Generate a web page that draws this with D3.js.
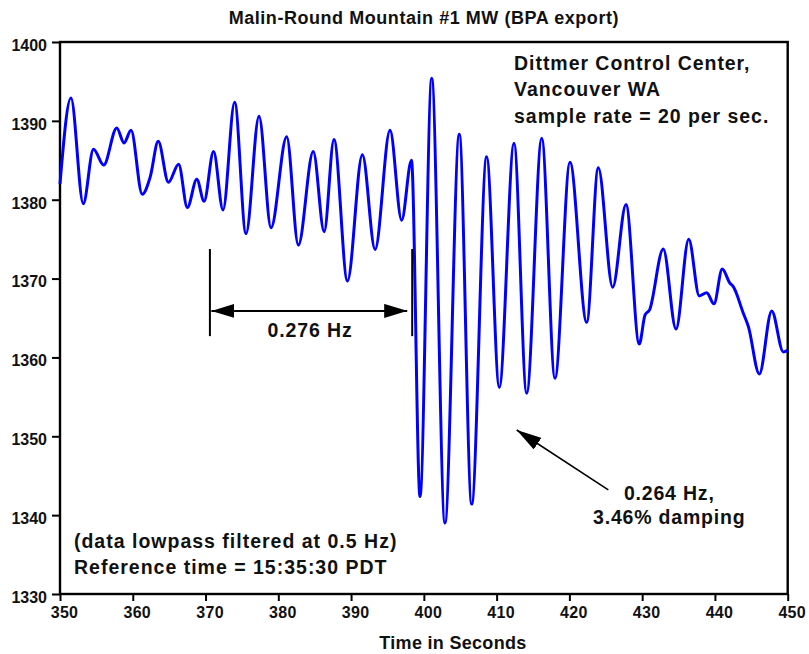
<!DOCTYPE html>
<html>
<head>
<meta charset="utf-8">
<script src="https://cdn.jsdelivr.net/npm/d3@7/dist/d3.min.js"></script>
<style>
  html, body { margin: 0; padding: 0; background: #fff; }
  svg { display: block; }
  text { font-family: "Liberation Sans", Arial, sans-serif; font-weight: bold; fill: #111; }
</style>
</head>
<body>
<svg id="chart" width="809" height="654"></svg>
<script>
// Malin-Round Mountain #1 line flow, seconds after reference time vs MW
const timeSec = [
  350.0, 351.5, 353.2, 354.6, 356.0, 357.8, 358.8, 359.76, 361.3, 362.4,
  363.5, 364.9, 366.3, 367.5, 368.8, 369.8, 371.1, 372.4, 374.0, 375.56,
  377.35, 379.0, 381.15, 382.75, 384.8, 386.3, 387.65, 389.5, 391.55, 393.3,
  395.35, 396.95, 398.3, 399.47, 401.08, 402.9, 404.87, 406.57, 408.63, 410.37,
  412.39, 414.13, 416.2, 418.02, 420.08, 422.38, 423.97, 425.95, 427.78, 429.6,
  430.4, 431.0, 432.9, 434.65, 436.4, 437.85, 438.87, 439.87, 441.0, 442.07,
  442.5, 443.9, 444.6, 446.1, 447.8, 449.4, 450.0
];
const megawatts = [
  1382.0, 1392.9, 1379.5, 1386.4, 1384.4, 1389.1, 1387.2, 1388.8, 1380.7, 1382.9,
  1387.4, 1382.2, 1384.5, 1379.0, 1382.6, 1379.8, 1386.1, 1378.7, 1392.35, 1375.7,
  1390.6, 1376.45, 1388.0, 1374.25, 1386.1, 1375.95, 1387.65, 1369.7, 1385.7, 1373.7,
  1388.8, 1377.4, 1385.0, 1342.35, 1395.4, 1339.0, 1388.3, 1341.4, 1385.45, 1356.2,
  1387.15, 1355.45, 1387.8, 1357.35, 1384.75, 1364.45, 1384.06, 1368.9, 1379.4, 1361.7,
  1365.4, 1366.0, 1373.75, 1363.6, 1375.0, 1367.8, 1368.2, 1366.8, 1371.2, 1369.4,
  1369.0, 1365.6, 1363.9, 1357.9, 1365.9, 1360.7, 1360.9
];

const xTicks = [350, 360, 370, 380, 390, 400, 410, 420, 430, 440, 450];
const yTicks = [1330, 1340, 1350, 1360, 1370, 1380, 1390, 1400];

const chartTitle = "Malin-Round Mountain #1 MW (BPA export)";
const xAxisTitle = "Time in Seconds";
const siteNote = ["Dittmer Control Center,", "Vancouver WA", "sample rate = 20 per sec."];
const filterNote = ["(data lowpass filtered at 0.5 Hz)", "Reference time = 15:35:30 PDT"];
const preMode = { t0: 370.6, t1: 398.4, vTop: 1373.75, vBottom: 1362.7, vArrow: 1365.9, label: "0.276 Hz" };
const postMode = { tailT: 425.35, tailV: 1343.2, tipT: 412.76, tipV: 1350.8,
                   labelT: 433.73, labelV: 1341.92, label: ["0.264 Hz,", "3.46% damping"] };

const W = 809, H = 654;
const margin = { top: 42, right: 21.3, bottom: 60, left: 60 };

const svg = d3.select("#chart");
const x = d3.scaleLinear().domain([350, 450]).range([margin.left, W - margin.right]);
const y = d3.scaleLinear().domain([1330, 1400]).range([H - margin.bottom, margin.top]);

// arrowhead markers
const defs = svg.append("defs");
function arrowMarker(id, len, half) {
  defs.append("marker")
    .attr("id", id)
    .attr("viewBox", `0 ${-half} ${len} ${2 * half}`)
    .attr("refX", len).attr("refY", 0)
    .attr("markerUnits", "userSpaceOnUse")
    .attr("markerWidth", len).attr("markerHeight", 2 * half)
    .attr("orient", "auto-start-reverse")
    .append("path")
    .attr("d", `M0,${-half}L${len},0L0,${half}Z`)
    .attr("fill", "#000");
}
arrowMarker("headWide", 23, 7);
arrowMarker("headDiag", 25, 7);

// x axis
const xAxis = d3.axisBottom(x).tickValues(xTicks).tickFormat(d3.format("d"))
  .tickSize(7).tickSizeOuter(0).tickPadding(6);
const gx = svg.append("g").attr("transform", `translate(0,${y(1330)})`).call(xAxis);
gx.select(".domain").remove();
gx.selectAll(".tick line").attr("stroke", "#000").attr("stroke-width", 2);
gx.selectAll(".tick text")
  .attr("dx", 4).attr("font-size", 16).attr("fill", "#111").attr("letter-spacing", 0.3)
  .style("font-family", '"Liberation Sans", Arial, sans-serif').style("font-weight", "bold");

// y axis
const yAxis = d3.axisLeft(y).tickValues(yTicks).tickFormat(d3.format("d"))
  .tickSize(8).tickSizeOuter(0).tickPadding(5);
const gy = svg.append("g").attr("transform", `translate(${x(350)},0)`).call(yAxis);
gy.select(".domain").remove();
gy.selectAll(".tick line").attr("stroke", "#000").attr("stroke-width", 2);
gy.selectAll(".tick text")
  .attr("dy", "0.52em").attr("font-size", 16).attr("fill", "#111")
  .style("font-family", '"Liberation Sans", Arial, sans-serif').style("font-weight", "bold");

// plot frame
svg.append("rect")
  .attr("x", x(350)).attr("y", y(1400))
  .attr("width", x(450) - x(350)).attr("height", y(1330) - y(1400))
  .attr("fill", "none").attr("stroke", "#000").attr("stroke-width", 2.4);

// MW trace
const series = timeSec.map((t, i) => ({ t, v: megawatts[i] }));
const line = d3.line().x(d => x(d.t)).y(d => y(d.v)).curve(d3.curveMonotoneX);
svg.append("path")
  .datum(series)
  .attr("d", line)
  .attr("fill", "none")
  .attr("stroke", "#0000ff")
  .attr("stroke-width", 3)
  .attr("stroke-linejoin", "round");

// period marker before the event
[preMode.t0, preMode.t1].forEach(t => {
  svg.append("line")
    .attr("x1", x(t)).attr("x2", x(t))
    .attr("y1", y(preMode.vTop)).attr("y2", y(preMode.vBottom))
    .attr("stroke", "#000").attr("stroke-width", 2);
});
svg.append("line")
  .attr("x1", x(preMode.t0) + 1.5).attr("x2", x(preMode.t1) - 5)
  .attr("y1", y(preMode.vArrow)).attr("y2", y(preMode.vArrow))
  .attr("stroke", "#000").attr("stroke-width", 2)
  .attr("marker-start", "url(#headWide)").attr("marker-end", "url(#headWide)");
svg.append("text")
  .attr("x", (x(preMode.t0) + x(preMode.t1)) / 2 - 1)
  .attr("y", y(1362.55))
  .attr("text-anchor", "middle").attr("font-size", 19.5).attr("letter-spacing", 0.9)
  .text(preMode.label);

// pointer to the post-event oscillation
svg.append("line")
  .attr("x1", x(postMode.tailT)).attr("y1", y(postMode.tailV))
  .attr("x2", x(postMode.tipT)).attr("y2", y(postMode.tipV))
  .attr("stroke", "#000").attr("stroke-width", 1.6)
  .attr("marker-end", "url(#headDiag)");
const postText = svg.append("text")
  .attr("text-anchor", "middle").attr("font-size", 19.5).attr("letter-spacing", 0.8);
postMode.label.forEach((s, i) => {
  postText.append("tspan")
    .attr("x", x(postMode.labelT))
    .attr("y", y(postMode.labelV) + i * 24)
    .text(s);
});

// site / sampling note
const siteText = svg.append("text").attr("font-size", 19.5).attr("letter-spacing", 0.95);
siteNote.forEach((s, i) => {
  siteText.append("tspan")
    .attr("x", x(412.4))
    .attr("y", y(1396.45) + i * 26.5)
    .text(s);
});

// filtering note
const filterText = svg.append("text").attr("font-size", 19.5).attr("letter-spacing", 1.0);
filterNote.forEach((s, i) => {
  filterText.append("tspan")
    .attr("x", x(351.92))
    .attr("y", y(1335.84) + i * 26)
    .text(s);
});

// titles
svg.append("text")
  .attr("x", (x(350) + x(450)) / 2).attr("y", 24)
  .attr("text-anchor", "middle").attr("font-size", 18).attr("letter-spacing", 0.55)
  .text(chartTitle);
svg.append("text")
  .attr("x", x(404)).attr("y", 649)
  .attr("text-anchor", "middle").attr("font-size", 18).attr("letter-spacing", 0.3)
  .text(xAxisTitle);
</script>
</body>
</html>
